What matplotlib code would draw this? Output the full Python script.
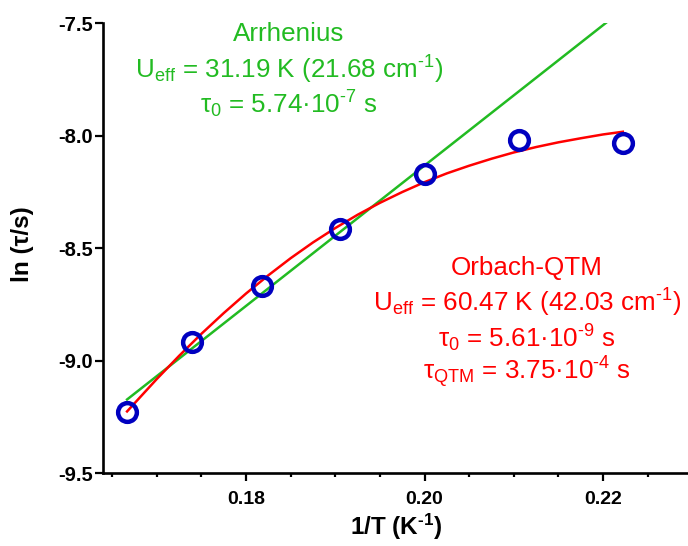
import matplotlib
matplotlib.use("Agg")
import matplotlib.pyplot as plt
from matplotlib.ticker import MultipleLocator

plt.rcParams['font.family'] = ['Liberation Sans', 'DejaVu Sans']
plt.rcParams['mathtext.fontset'] = 'custom'
plt.rcParams['mathtext.rm'] = 'Liberation Sans'
plt.rcParams['mathtext.it'] = 'Liberation Sans:italic'
plt.rcParams['mathtext.bf'] = 'Liberation Sans:bold'
plt.rcParams['axes.unicode_minus'] = False

# %% Data
inv_T = [0.16667, 0.17391, 0.18182, 0.19048, 0.20000, 0.21053, 0.22222]
ln_tau = [-9.229, -8.916, -8.667, -8.414, -8.170, -8.019, -8.034]

# Arrhenius fit (straight line, end points)
arr_x = [0.16667, 0.22222]
arr_y = [-9.172, -7.439]

# Orbach-QTM fit curve
oq_x = [0.16667, 0.170, 0.1725, 0.175, 0.1775, 0.180, 0.1825, 0.185, 0.1875,
        0.190, 0.1925, 0.195, 0.1975, 0.200, 0.2025, 0.205, 0.2075, 0.210,
        0.2125, 0.215, 0.2175, 0.220, 0.22222]
oq_y = [-9.225, -9.081, -8.978, -8.880, -8.788, -8.701, -8.620, -8.544, -8.474,
        -8.410, -8.351, -8.298, -8.250, -8.206, -8.167, -8.133, -8.102, -8.074,
        -8.050, -8.029, -8.011, -7.994, -7.982]

x_ticks = [0.18, 0.20, 0.22]
x_labels = ['0.18', '0.20', '0.22']
y_ticks = [-9.5, -9.0, -8.5, -8.0, -7.5]
y_labels = ['-9.5', '-9.0', '-8.5', '-8.0', '-7.5']

GREEN = '#22bb22'
RED = '#ff0000'
BLUE = '#0000c0'

# %% Plot
W, H = 688, 546
fig = plt.figure(figsize=(W / 100, H / 100), dpi=100)
ax = fig.add_axes([102.7 / W, 1 - 473.3 / H, 1 - 102.7 / W, (473.3 - 23.3) / H])

ax.plot(arr_x, arr_y, color=GREEN, lw=1.8, zorder=2)
ax.plot(oq_x, oq_y, color=RED, lw=1.8, zorder=3)
ax.plot(inv_T, ln_tau, 'o', ms=13.5, mfc='none', mec=BLUE, mew=3.2, zorder=4, clip_on=False)

ax.set_xlim(0.16394, 0.22952)
ax.set_ylim(-9.5, -7.5)

ax.set_xticks(x_ticks)
ax.set_xticklabels(x_labels, fontsize=14, fontweight='bold')
ax.set_yticks(y_ticks)
ax.set_yticklabels(y_labels, fontsize=14.5, fontweight='bold')
ax.xaxis.set_minor_locator(MultipleLocator(0.005))

for s in ['top', 'right']:
    ax.spines[s].set_visible(False)
for s in ['left', 'bottom']:
    ax.spines[s].set_linewidth(1.9)

ax.tick_params(axis='x', which='major', length=6, width=1.6, pad=7, direction='out')
ax.tick_params(axis='x', which='minor', length=3, width=1.6, direction='out')
ax.tick_params(axis='y', which='major', length=5.5, width=1.6, pad=1.5, direction='out')

fig.text(396 / W, 1 - 527 / H, r'1/T (K$^{\mathbf{‐1}}$)', fontsize=17.5, fontweight='bold',
         ha='center', va='center')
fig.text(23 / W, 1 - 244 / H, 'ln (τ/s)', fontsize=17.5, fontweight='bold',
         ha='center', va='center', rotation=90)

# Annotations
green_lines = ['Arrhenius',
               r'U$_{\mathrm{eff}}$ = 31.19 K (21.68 cm$^{\mathrm{‐1}}$)',
               r'τ$_0$ = 5.74·10$^{\mathrm{‐7}}$ s']
green_y = [34, 70, 104]
for t, y in zip(green_lines, green_y):
    fig.text(289 / W, 1 - y / H, t, color=GREEN, fontsize=18.7, ha='center', va='center')

red_lines = ['Orbach-QTM',
             r'U$_{\mathrm{eff}}$ = 60.47 K (42.03 cm$^{\mathrm{‐1}}$)',
             r'τ$_0$ = 5.61·10$^{\mathrm{‐9}}$ s',
             r'τ$_{\mathrm{QTM}}$ = 3.75·10$^{\mathrm{‐4}}$ s']
red_y = [268, 303, 338, 372]
for t, y in zip(red_lines, red_y):
    fig.text(527 / W, 1 - y / H, t, color=RED, fontsize=18.7, ha='center', va='center')

fig.savefig('out.png', dpi=100)
